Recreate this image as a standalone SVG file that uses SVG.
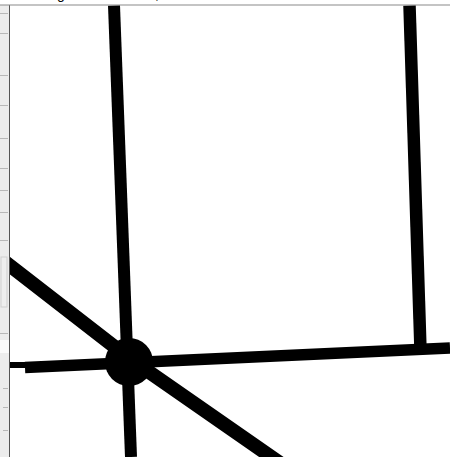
<svg xmlns="http://www.w3.org/2000/svg" width="450" height="457" viewBox="0 0 450 457">
<style>
.ln{stroke:#000;fill:none;stroke-linecap:butt;stroke-linejoin:round}
.tick{stroke:#b8b8b8;stroke-width:1}
.txt{font-family:"Liberation Sans",Arial,sans-serif;font-size:14px;fill:#000}
</style>
<rect x="0" y="0" width="450" height="457" fill="#fff"/>
<g id="connectors">
<line class="ln" x1="114" y1="5.5" x2="131" y2="457" stroke-width="12"/>
<line class="ln" x1="409.5" y1="5.5" x2="420.5" y2="350" stroke-width="12.5"/>
<line class="ln" x1="8" y1="365" x2="30" y2="365" stroke-width="6"/>
<line class="ln" x1="25" y1="367.5" x2="450" y2="348" stroke-width="11.5"/>
<polyline class="ln" points="0,258 129,358 280,463" stroke-width="14"/>
</g>
<g id="junction">
<circle cx="129" cy="362" r="24" fill="#000"/>
</g>
<g id="ruler">
<rect x="0" y="5" width="9.5" height="452" fill="#ececec"/>
<rect x="0" y="340" width="9.5" height="13" fill="#fafafa"/>
<rect x="1" y="257" width="6" height="50" fill="#eeeeee" stroke="#cfcfcf" stroke-width="1"/>
<line class="tick" x1="0" y1="13.5" x2="8" y2="13.5"/>
<line class="tick" x1="0" y1="33.5" x2="8" y2="33.5"/>
<line class="tick" x1="0" y1="75.5" x2="8" y2="75.5"/>
<line class="tick" x1="0" y1="105.5" x2="8" y2="105.5"/>
<line class="tick" x1="0" y1="138.5" x2="8" y2="138.5"/>
<line class="tick" x1="0" y1="168.5" x2="8" y2="168.5"/>
<line class="tick" x1="0" y1="190.5" x2="8" y2="190.5"/>
<line class="tick" x1="0" y1="212.5" x2="8" y2="212.5"/>
<line class="tick" x1="0" y1="240.5" x2="8" y2="240.5"/>
<line class="tick" x1="0" y1="333.5" x2="8" y2="333.5"/>
<line class="tick" x1="3" y1="388.5" x2="8" y2="388.5"/>
<line class="tick" x1="3" y1="407.5" x2="8" y2="407.5"/>
<line class="tick" x1="3" y1="430.5" x2="8" y2="430.5"/>
<line x1="9.5" y1="5" x2="9.5" y2="457" stroke="#555" stroke-width="1"/>
<line x1="0" y1="5" x2="450" y2="5" stroke="#8a8a8a" stroke-width="1.2"/>
<text class="txt" x="57" y="-1">g</text>
<text class="txt" x="155" y="-1">,</text>
</g>
</svg>
